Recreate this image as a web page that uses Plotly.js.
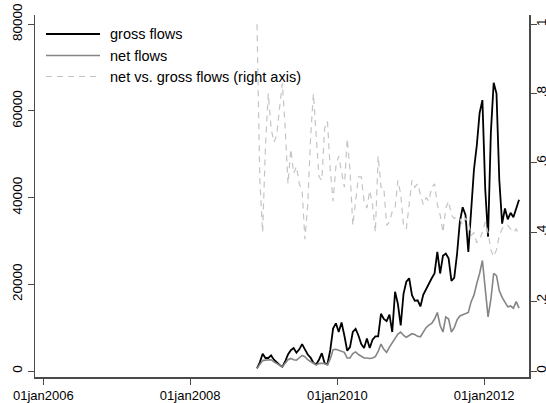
<!DOCTYPE html>
<html>
<head>
<meta charset="utf-8">
<script src="https://cdn.plot.ly/plotly-3.0.1.min.js"></script>
<style>
  html, body { margin: 0; padding: 0; background: #fff; }
  #chart { width: 546px; height: 403px; }
</style>
</head>
<body>
<div id="chart"></div>
<script>
// Fortnightly observations, first one on 28 Nov 2008
const firstDate = '2008-11-28';
const stepDays = 14;

// Gross flows (left axis)
const grossFlows = [
  600, 2000, 4000, 3000, 3000, 3600, 2600, 1900, 1400, 1000,
  2200, 3800, 4800, 5300, 4200, 5000, 6200, 5000, 3800, 3100,
  1900, 1500, 2600, 4100, 1800, 1550, 4850, 9800, 11000, 9000,
  11200, 8200, 4700, 5500, 9000, 9700, 8200, 6200, 5300, 7500,
  5300, 7200, 8000, 8000, 13200, 12000, 11500, 13000, 9000, 18300,
  15500, 10500, 17800, 20600, 21400, 17500, 16200, 16300, 14900, 17600,
  19000, 20400, 21400, 22500, 27500, 22500, 26600, 27100, 26000, 20800,
  21500, 27000, 34500, 37800, 36000, 27500, 36000, 46500, 52000, 59500,
  62500, 42000, 31000, 55000, 66500, 64000, 44000, 34000, 37500, 35000,
  36500, 35500, 37500, 39500
];

// Net flows (left axis)
const netFlows = [
  600, 1500, 2400, 2500, 2500, 2600, 2100, 1700, 1300, 1000,
  1800, 2600, 2900, 2600, 2500, 3000, 3600, 3300, 2600, 2200,
  1700, 1400, 1700, 1800, 1700, 1400, 2800, 4900, 5000, 4800,
  4500, 4300, 3000, 3000, 4000, 4400, 3800, 3300, 3000, 3000,
  2900, 3000, 3300, 4500, 6200, 5000, 4300, 5500, 6500, 7800,
  8500, 9000, 8200, 7800, 8200, 8600, 8400, 8000, 7900, 9000,
  10000, 10600, 11000, 12000, 13500, 10500, 9000, 12500, 12000, 9000,
  10000, 11800, 12700, 13000, 13300, 13500, 16000, 17500, 20200, 22500,
  25500, 19000, 12500, 16500, 22500, 22000, 18500, 17000, 16000, 14800,
  15000, 14500, 16000, 14500
];

// Net vs. gross flows (right axis)
const netVsGross = [
  1.00, 0.55, 0.40, 0.65, 0.80, 0.70, 0.66, 0.68, 0.76, 0.83,
  0.70, 0.54, 0.64, 0.57, 0.59, 0.54, 0.52, 0.38, 0.48, 0.67,
  0.80, 0.69, 0.56, 0.55, 0.70, 0.72, 0.58, 0.49, 0.59, 0.62,
  0.58, 0.53, 0.67, 0.58, 0.42, 0.50, 0.56, 0.56, 0.49, 0.47,
  0.52, 0.48, 0.40, 0.62, 0.53, 0.53, 0.42, 0.43, 0.46, 0.47,
  0.55, 0.51, 0.42, 0.41, 0.49, 0.55, 0.53, 0.54, 0.51, 0.48,
  0.50, 0.49, 0.53, 0.54, 0.48, 0.45, 0.40, 0.47, 0.49, 0.45,
  0.44, 0.445, 0.44, 0.42, 0.44, 0.43, 0.39, 0.40, 0.37, 0.38,
  0.40, 0.43, 0.40, 0.35, 0.33, 0.35, 0.39, 0.41, 0.42, 0.42,
  0.41, 0.40, 0.41, 0.39
];

// Axis ticks
const xTickDates = ['2006-01-01', '2008-01-01', '2010-01-01', '2012-01-01'];
const xTickLabels = ['01jan2006', '01jan2008', '01jan2010', '01jan2012'];
const leftTicks = [0, 20000, 40000, 60000, 80000];
const leftTickLabels = ['0', '20000', '40000', '60000', '80000'];
const rightTicks = [0, 0.2, 0.4, 0.6, 0.8, 1];
const rightTickLabels = ['0', '.2', '.4', '.6', '.8', '1'];

// Legend entries
const legendLabels = ['gross flows', 'net flows', 'net vs. gross flows (right axis)'];

const FONT = 'Liberation Sans, Arial, sans-serif';
const W = 546, H = 403;
const M = { l: 35, r: 17, t: 15, b: 26 };
const plotW = W - M.l - M.r, plotH = H - M.t - M.b;
const px = v => (v - M.l) / plotW;
const py = v => (H - M.b - v) / plotH;

const styles = [
  { color: '#000000', width: 1.8, dash: 'solid' },
  { color: '#858585', width: 1.6, dash: 'solid' },
  { color: '#c4c4c4', width: 1.2, dash: '6px,5px' }
];

const dx = stepDays * 86400000;
const traces = [
  { x0: firstDate, dx: dx, y: grossFlows, type: 'scatter', mode: 'lines',
    line: styles[0], yaxis: 'y', hoverinfo: 'skip' },
  { x0: firstDate, dx: dx, y: netFlows, type: 'scatter', mode: 'lines',
    line: styles[1], yaxis: 'y', hoverinfo: 'skip' },
  { x0: firstDate, dx: dx, y: netVsGross, type: 'scatter', mode: 'lines',
    line: styles[2], yaxis: 'y2', hoverinfo: 'skip' }
];

// Hand-drawn legend in the upper left corner
const legendRows = [34, 55.5, 76.5];
const shapes = legendRows.map((yy, i) => ({
  type: 'line', xref: 'paper', yref: 'paper',
  x0: px(46), x1: px(100), y0: py(yy), y1: py(yy),
  line: { color: styles[i].color, width: styles[i].width, dash: styles[i].dash }
}));
const annotations = legendRows.map((yy, i) => ({
  xref: 'paper', yref: 'paper', x: px(108), y: py(yy),
  xanchor: 'left', yanchor: 'middle', showarrow: false,
  text: legendLabels[i], font: { family: FONT, size: 14.5, color: '#000' }
}));

const axisCommon = {
  showgrid: false, zeroline: false, showline: true,
  linecolor: '#4a4a4a', linewidth: 1.5,
  ticks: 'outside', ticklen: 6, tickwidth: 1, tickcolor: '#4a4a4a',
  tickfont: { family: FONT, size: 13.5, color: '#000' },
  fixedrange: true
};

const layout = {
  width: W, height: H,
  margin: M,
  paper_bgcolor: '#fff', plot_bgcolor: '#fff',
  showlegend: false,
  xaxis: Object.assign({}, axisCommon, {
    type: 'date',
    range: ['2005-11-20 19:00', '2012-08-10 12:00'],
    tickmode: 'array', tickvals: xTickDates, ticktext: xTickLabels,
    tickfont: { family: FONT, size: 13, color: '#000' }
  }),
  yaxis: Object.assign({}, axisCommon, {
    range: [-1384, 82146],
    tickmode: 'array', tickvals: leftTicks, ticktext: leftTickLabels,
    tickangle: -90
  }),
  yaxis2: Object.assign({}, axisCommon, {
    overlaying: 'y', side: 'right',
    range: [-0.0173, 1.0268],
    tickmode: 'array', tickvals: rightTicks, ticktext: rightTickLabels,
    tickangle: -90, ticklabelstandoff: -7
  }),
  shapes: shapes,
  annotations: annotations
};

Plotly.newPlot('chart', traces, layout, { staticPlot: true, displayModeBar: false });
</script>
</body>
</html>
